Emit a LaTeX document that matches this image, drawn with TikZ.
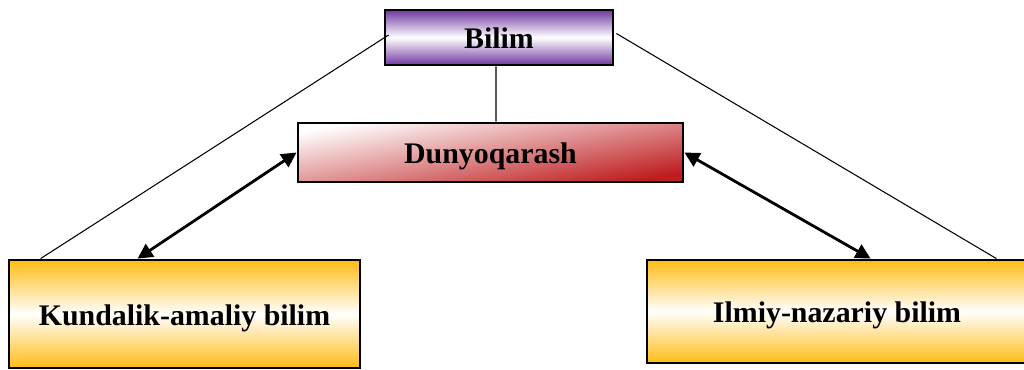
\documentclass[tikz,border=0pt]{standalone}
\usepackage{fontspec}
\setmainfont{Liberation Serif}
\usetikzlibrary{arrows.meta}
\definecolor{bilimPurple}{RGB}{112,56,160}
\definecolor{dunyoRed}{RGB}{190,28,30}
\definecolor{bilimOrange}{RGB}{255,188,20}
\begin{document}
\begin{tikzpicture}
        [box/.style={rectangle, draw, line width=1.6pt, text height=14pt, text depth=1pt, font=\fontsize{17}{20}\selectfont\bfseries},
        boxPurple/.style={box, top color=bilimPurple, bottom color=bilimPurple, middle color=white},
        boxRed/.style={box, top color=white, bottom color=dunyoRed, shading angle=10},
        boxOrange/.style={box, top color=bilimOrange, bottom color=bilimOrange, middle color=white},
        link/.style={line width=0.6pt},
        twoWay/.style={line width=1.6pt, {Triangle[length=0.3cm,width=0.3cm]}-{Triangle[length=0.3cm,width=0.3cm]}}]
        \useasboundingbox (0,0) rectangle (20.48,-7.4);
        \node[boxPurple, minimum width=4.56cm, minimum height=1.1cm] (bilim) at (9.98,-0.75) {Bilim};
        \node[boxRed, minimum width=7.7cm, minimum height=1.18cm] (dunyo) at (9.81,-3.05) {Dunyoqarash};
        \node[boxOrange, minimum width=7.02cm, minimum height=2.16cm] (kund) at (3.69,-6.28) {Kundalik-amaliy bilim};
        \node[boxOrange, minimum width=7.6cm, minimum height=2.06cm] (ilmiy) at (16.74,-6.23) {Ilmiy-nazariy bilim};
        
        \draw[link] ([xshift=0.1cm,yshift=0.05cm]bilim.west) -- ([xshift=0.66cm]kund.north west);
        \draw[link] ([xshift=0.04cm,yshift=0.08cm]bilim.east) -- ([xshift=-0.64cm]ilmiy.north east);
        \draw[link] ([xshift=-0.06cm]bilim.south) -- ([xshift=0.11cm]dunyo.north);
        
        \draw[twoWay] ([xshift=2.6cm]kund.north west) -- (dunyo.west);
        \draw[twoWay] (dunyo.east) -- ([xshift=4.5cm]ilmiy.north west);
    \end{tikzpicture}
\end{document}
